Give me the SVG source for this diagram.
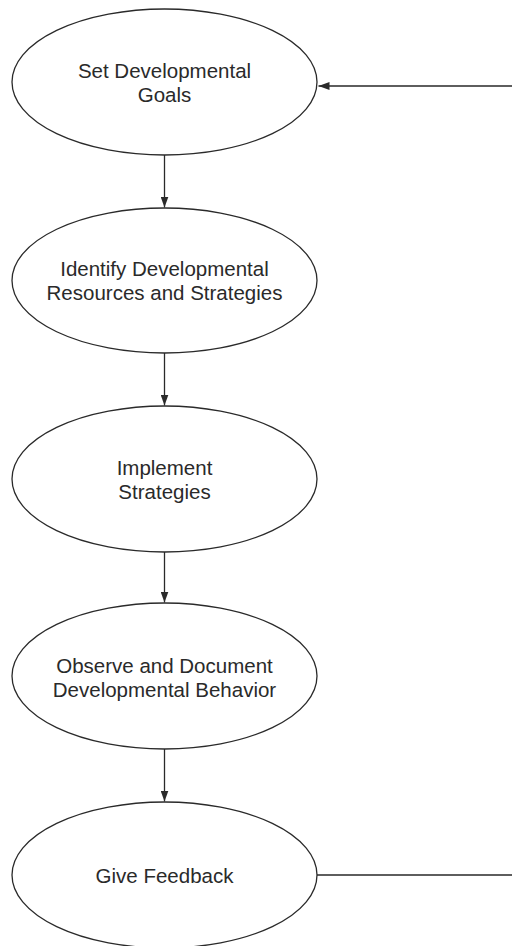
<svg xmlns="http://www.w3.org/2000/svg" width="512" height="946" viewBox="0 0 512 946">
<style>
.node ellipse{fill:#fff;stroke:#2a2a2a;stroke-width:1.3}
.node text{font-family:"Liberation Sans",Arial,sans-serif;font-size:20.5px;fill:#2a2a2a;text-anchor:middle}
.conn{fill:none;stroke:#2a2a2a;stroke-width:1.3}
</style>
<defs>
<marker id="ah" markerUnits="userSpaceOnUse" markerWidth="12" markerHeight="8" refX="11" refY="4" orient="auto">
<path d="M0,0 L11,4 L0,8 Z" fill="#2a2a2a"/>
</marker>
</defs>
<g id="connectors">
<path class="conn" d="M164.5,155 V207.5" marker-end="url(#ah)"/>
<path class="conn" d="M164.5,353 V405.5" marker-end="url(#ah)"/>
<path class="conn" d="M164.5,552 V602.5" marker-end="url(#ah)"/>
<path class="conn" d="M164.5,749 V801.5" marker-end="url(#ah)"/>
<path class="conn" d="M317,875 H516 V86 H318.5" marker-end="url(#ah)"/>
</g>
<g id="n1" class="node">
<ellipse cx="164.5" cy="82" rx="152.5" ry="73"/>
<text x="164.5" y="77.5">Set Developmental</text>
<text x="164.5" y="101.5">Goals</text>
</g>
<g id="n2" class="node">
<ellipse cx="164.5" cy="280.5" rx="152.5" ry="72.5"/>
<text x="164.5" y="276">Identify Developmental</text>
<text x="164.5" y="299.5">Resources and Strategies</text>
</g>
<g id="n3" class="node">
<ellipse cx="164.5" cy="479" rx="152.5" ry="73"/>
<text x="164.5" y="475">Implement</text>
<text x="164.5" y="498.5">Strategies</text>
</g>
<g id="n4" class="node">
<ellipse cx="164.5" cy="676" rx="152.5" ry="73"/>
<text x="164.5" y="673">Observe and Document</text>
<text x="164.5" y="696.5">Developmental Behavior</text>
</g>
<g id="n5" class="node">
<ellipse cx="164.5" cy="875" rx="152.5" ry="73"/>
<text x="164.5" y="883">Give Feedback</text>
</g>
</svg>
